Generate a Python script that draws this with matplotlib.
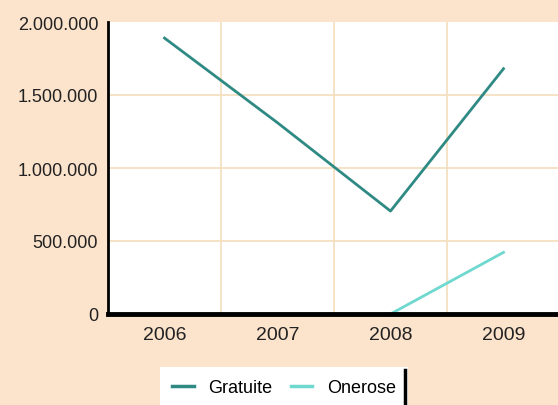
import matplotlib.pyplot as plt
from matplotlib.ticker import FuncFormatter
from matplotlib.lines import Line2D

plt.rcParams['font.family'] = ['Liberation Sans', 'DejaVu Sans']

years = ["2006", "2007", "2008", "2009"]
gratuite = [1890000, 1310000, 705000, 1680000]
onerose_years = ["2008", "2009"]
onerose = [0, 422000]

bg = "#FCE3CB"
grid_col = "#F3DEBE"

fig = plt.figure(figsize=(5.58, 4.06), dpi=100, facecolor=bg)
ax = fig.add_axes([108 / 558, 1 - 315 / 406, 452 / 558, 292 / 406])
ax.set_facecolor("white")

x = list(range(len(years)))
ax.plot(x, gratuite, color="#2E8A83", lw=2, label="Gratuite")
ax.plot([years.index(y) for y in onerose_years], onerose, color="#6FD8CF", lw=2, label="Onerose")

ax.set_xlim(-0.5, 3.5)
ax.set_ylim(0, 2000000)
ax.set_xticks(x)
ax.set_xticklabels(years)
ax.set_yticks([0, 500000, 1000000, 1500000, 2000000])
ax.yaxis.set_major_formatter(FuncFormatter(lambda v, p: f"{v:,.0f}".replace(",", ".")))

# grid between categories
for gx in [0.5, 1.5, 2.5]:
    ax.axvline(gx, color=grid_col, lw=1.2, zorder=0)
for gy in [500000, 1000000, 1500000]:
    ax.axhline(gy, color=grid_col, lw=1.2, zorder=0)

for s in ["top", "right"]:
    ax.spines[s].set_visible(False)
ax.spines["left"].set_linewidth(2)
ax.spines["bottom"].set_linewidth(3.5)
ax.tick_params(axis="y", length=0, pad=7, labelsize=13, colors="#222222")
ax.tick_params(axis="x", length=0, pad=9, labelsize=14, colors="#222222")

leg = fig.legend(loc="center", bbox_to_anchor=(284 / 558, 1 - 389 / 406), ncol=2,
                 frameon=True, fancybox=False, fontsize=13, handlelength=1.2,
                 columnspacing=1.0, borderpad=0.7, handletextpad=0.8, framealpha=1)
leg.get_frame().set_facecolor("white")
leg.get_frame().set_edgecolor("none")
for h in leg.legend_handles:
    h.set_linewidth(2.5)

fig.add_artist(Line2D([405 / 558, 405 / 558], [0, 1 - 371 / 406], color="black", lw=2.5, zorder=10))

fig.savefig("out.png", dpi=100, facecolor=bg)
